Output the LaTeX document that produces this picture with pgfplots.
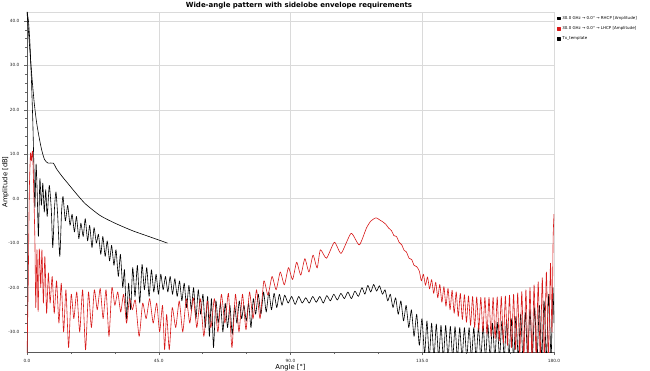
\documentclass[border=0pt]{standalone}
\usepackage{pgfplots}
\pgfplotsset{compat=1.18}
\usepackage{fontspec}
\setmainfont{DejaVu Sans}
\definecolor{lhcp}{RGB}{215,25,25}
\definecolor{gridc}{RGB}{218,218,218}
\begin{document}
\begin{tikzpicture}
\useasboundingbox (0,0) rectangle (650pt,370pt);
\begin{axis}[
  at={(27pt,18pt)}, anchor=south west,
  scale only axis, width=527pt, height=340pt,
  xmin=0, xmax=180, ymin=-34.5, ymax=42,
  xtick={0,45,90,135,180}, ytick={-30,-20,-10,0,10,20,30,40},
  minor x tick num=2, minor y tick num=4,
  tick align=outside,
  major tick length=3pt, minor tick length=2pt,
  tick style={color=black!60, line width=0.4pt},
  axis x line*=bottom, axis y line*=left,
  axis line style={color=black!65, line width=0.5pt, -},
  axis background/.style={draw=gridc},
  grid=major, major grid style={color=gridc, line width=0.5pt},
  /pgf/number format/assume math mode=true,
  /pgf/number format/.cd, fixed, fixed zerofill, precision=1, /pgfplots/.cd,
  ticklabel style={font=\fontsize{4.3}{5}\selectfont, color=black!85},
  xticklabel style={yshift=-0.5pt},
  yticklabel style={xshift=-1pt},
  xlabel={Angle [°]}, ylabel={Amplitude [dB]},
  label style={font=\fontsize{6.8}{8}\selectfont},
  xlabel style={at={(axis description cs:0.5,0)}, anchor=center, yshift=-16pt, inner sep=0pt},
  ylabel style={at={(axis description cs:0,0.5)}, anchor=south, xshift=-0pt, yshift=18pt, inner sep=0pt},
  every axis title shift=0pt,
  title={Wide-angle pattern with sidelobe envelope requirements},
  title style={font=\bfseries\fontsize{7}{8}\selectfont, at={(axis description cs:0.5,1)}, anchor=center, inner sep=0pt, xshift=8.5pt, yshift=6.5pt},
  legend style={at={(1,1)}, anchor=north west, xshift=2pt, yshift=-1pt, draw=none, fill=none,
    font=\fontsize{4}{5}\selectfont, row sep=1.6pt, inner sep=1pt,
    /tikz/every even column/.append style={column sep=1pt}},
  legend cell align=left,
  legend image code/.code={\fill[#1] (0pt,-1.3pt) rectangle (2.6pt,1.3pt);},
  every axis plot/.append style={line width=0.6pt, line join=round},
]
% RHCP (black)
\addplot[black, smooth, tension=0.35] coordinates {
(0,42) (0.5,40) (1,35) (1.5,27) (2,17) (2.4,6) (2.7,-2) (3.1,7.8) (3.5,1) (3.9,-8.5)
(4.4,4.5) (4.9,-1.5) (5.4,3.5) (5.9,-3) (6.4,2) (6.9,-4) (7.6,3) (8.3,-2.5) (8.8,-11) (9.4,-2)
(9.9,1.5) (10.5,-4) (11.2,-13) (11.8,-3) (12.3,0.5) (13.1,-5) (13.9,-1.5) (14.7,-6) (15.4,-3.5) (16.2,-7.5)
(16.9,-4) (17.7,-9) (18.4,-5.5) (19.2,-8.5) (19.9,-4.5) (20.7,-9.5) (21.4,-6) (22.2,-11) (22.9,-6.5) (23.7,-10)
(24.4,-8) (25.2,-12.5) (25.9,-8.5) (26.7,-13) (27.4,-9.5) (28.2,-14) (28.9,-10.5) (29.7,-15) (30.4,-11.5) (31.2,-17.5)
(31.9,-12.5) (32.7,-20) (33.3,-16) (34,-27) (34.7,-19) (35.4,-25) (36.1,-15.5) (36.9,-22) (37.7,-15) (38.5,-23.5)
(39.3,-14.8) (40.1,-20.5) (40.9,-15.5) (41.7,-22) (42.5,-16) (43.3,-21) (44.1,-17) (44.9,-21.5) (45.7,-17) (46.5,-20.5)
(47.3,-17.5) (48.1,-21) (48.9,-17.5) (49.7,-21.5) (50.5,-18) (51.3,-22) (52.1,-18.5) (52.9,-23) (53.7,-19) (54.5,-24.5)
(55.3,-19.5) (56.1,-25) (56.9,-20) (57.7,-27) (58.5,-20.5) (59.3,-26) (60.1,-21.5) (60.9,-29) (61.7,-22) (62.3,-31)
(63,-22.5) (63.7,-33.5) (64.5,-23) (65.3,-28) (66.1,-23.5) (66.9,-30) (67.7,-23.5) (68.5,-29) (69.3,-24) (70.1,-30.5)
(70.9,-24) (71.7,-28) (72.5,-23) (73.3,-27) (74.1,-24) (74.9,-27.5) (75.7,-23.5) (76.5,-29) (77.3,-22.5) (78.1,-26)
(79,-21.5) (79.9,-26) (80.8,-21) (81.7,-25.5) (82.6,-21) (83.5,-25) (84.4,-21.3) (85.3,-24.5) (86.2,-21.5) (87.1,-24)
(88,-21.7) (89.2,-23.5) (90.4,-22) (91.6,-23.8) (92.8,-22) (94,-23.5) (95.2,-22.3) (96.4,-23.5) (97.6,-22) (98.8,-23.3)
(100,-22) (101.2,-23.5) (102.4,-21.8) (103.6,-23) (104.8,-21.5) (106,-22.8) (107.2,-21.3) (108.4,-22.5) (109.6,-21) (110.8,-22.5)
(112,-20.8) (113.2,-22) (114.4,-20) (115.4,-21.5) (116.4,-19.5) (117.4,-21) (118.4,-19.3) (119.4,-20.8) (120.4,-19.6) (121.4,-21.5)
(122.3,-20.5) (123.2,-23) (124.1,-21.5) (125,-24.5) (125.9,-22.3) (126.8,-26) (127.7,-23) (128.6,-27.5) (129.5,-24) (130.4,-29)
(131.3,-25) (132.2,-31) (133.1,-26) (134,-33) (134.9,-27) (135.8,-35) (136.6,-27.5) (137.4,-36) (138.2,-28) (139,-36)
(139.8,-28.2) (140.6,-36) (141.4,-28.5) (142.2,-36) (143,-28.5) (143.8,-36) (144.6,-28.7) (145.4,-36) (146.2,-28.8) (147,-36)
(147.8,-29) (148.6,-36) (149.4,-29) (150.2,-36) (151,-29) (151.8,-36) (152.6,-29) (153.4,-36) (154.2,-28.8) (155,-36)
(155.8,-28.6) (156.6,-36) (157.4,-28.3) (158.2,-36) (159,-28) (159.8,-36) (160.6,-27.8) (161.4,-36) (162.2,-27.5) (163,-36)
(163.8,-27.2) (164.6,-36) (165.4,-27) (166.2,-36) (167,-26.5) (167.8,-36) (168.6,-26) (169.4,-36) (170.2,-25.5) (171,-36)
(171.8,-25) (172.6,-36) (173.4,-24.5) (174.2,-36) (175,-24) (175.8,-36) (176.6,-23) (177.4,-36) (178.2,-21.5) (179,-36)
(179.6,-20) (180,-28)
};
\addlegendentry{30.0 GHz → 0.0° → RHCP [Amplitude]}
% LHCP (red)
\addplot[lhcp, smooth, tension=0.35] coordinates {
(0,-36) (0.4,-20) (0.8,2) (1.2,10.3) (1.5,8.5) (1.9,10.7) (2.3,2) (2.7,-9.5) (3.0,-24.5) (3.4,-11.5)
(3.8,-25.4) (4.2,-11.3) (4.7,-20) (5.1,-11.5) (5.6,-23.5) (6.1,-13) (6.7,-25.8) (7.3,-16.7) (7.9,-23.5) (8.6,-17.5)
(9.3,-25.8) (10.1,-18.5) (10.9,-28) (11.7,-19) (12.5,-30) (13.3,-20.5) (14.2,-33.5) (15.1,-21.5) (16,-27) (17,-21)
(18,-30) (19,-20.5) (20,-34) (21,-21) (22,-29) (23,-20.5) (24,-25) (25,-20.2) (26,-27) (27,-20.5)
(28,-31) (29,-20) (30,-24) (31,-21) (32,-25.5) (33,-21.5) (34,-28) (35,-22.5) (36,-25) (37,-22.8)
(38.3,-31) (39.5,-23.5) (40.7,-27) (41.9,-22.5) (43.1,-28) (44.3,-23.5) (45.3,-30) (46.3,-24) (47,-34) (47.7,-26)
(48.6,-34) (49.6,-24.5) (50.8,-29) (52,-23) (53.2,-30) (54.4,-22.5) (55.6,-28) (56.8,-22.3) (58,-29) (59.2,-22.5)
(60.4,-31) (61.6,-23) (62.8,-29) (64,-22.5) (65.2,-30) (66.4,-21.5) (67.6,-28) (68.8,-21.3) (70,-33.5) (71.2,-21.5)
(72.4,-30) (73.6,-21.5) (74.8,-29.5) (76,-21) (77.2,-27) (78.4,-20.5) (79.6,-27) (80.9,-18.5) (82.3,-21.7) (83.7,-17.5)
(85.1,-20.5) (86.5,-16.5) (87.9,-19.4) (89.3,-15.5) (90.7,-18.2) (92.1,-14.3) (93.5,-17.2) (94.9,-13.5) (96.3,-16.5) (97.7,-12.7)
(99.1,-15.6) (100.2,-11.5) (102.3,-13.4) (105,-9.8) (107.3,-12.3) (110.7,-7.8) (113.5,-10.4) (116,-6.5) (117.5,-5) (119.2,-4.3)
(120.5,-4.8) (121.5,-5.2) (122.6,-5.8) (123.5,-6.6) (124.5,-7.2) (125.3,-8.3) (126.2,-8.5) (127.1,-9.8) (128,-10.4) (128.8,-11.6)
(129.6,-12) (130.5,-13.4) (131.4,-13.7) (132.2,-15) (133.1,-15.3) (134,-16.3) (134.7,-18.5) (135.4,-17) (136.1,-19.5) (136.8,-17.6)
(137.5,-20.3) (138.2,-18.2) (138.9,-21.3) (139.6,-18.8) (140.3,-22.3) (141,-19.3) (141.7,-23.3) (142.4,-19.8) (143.1,-24.2) (143.8,-20.2)
(144.5,-25) (145.2,-20.6) (145.9,-25.8) (146.6,-21) (147.3,-26.5) (148,-21.3) (148.7,-27.2) (149.4,-21.6) (150.1,-27.8) (150.8,-21.9)
(151.5,-28.5) (152.2,-22) (152.9,-29) (153.6,-22.1) (154.3,-29.6) (155,-22.2) (155.7,-30) (156.4,-22.2) (157.1,-30.5) (157.8,-22.2)
(158.5,-31) (159.2,-22.2) (159.9,-31.5) (160.6,-22.1) (161.3,-32) (162,-22) (162.7,-32.5) (163.4,-21.9) (164.1,-33) (164.8,-21.7)
(165.5,-33.5) (166.2,-21.5) (166.9,-34) (167.6,-21.2) (168.3,-35) (169,-20.9) (169.7,-36) (170.4,-20.5) (171.1,-36) (171.8,-20)
(172.5,-36) (173.2,-19.4) (173.9,-36) (174.6,-18.7) (175.3,-36) (176,-17.8) (176.7,-36) (177.4,-16.5) (178.1,-36) (178.8,-14.5)
(179.3,-30) (179.7,-9) (180,-3.5)
};
\addlegendentry{30.0 GHz → 0.0° → LHCP [Amplitude]}
% Template
\addplot[black, smooth, tension=0.4] coordinates {
(0,42) (0.8,35) (1.6,28) (2.4,22) (3.2,17.5) (4,14.3) (5,11) (6,8.8) (7.2,8) (9,8)
(10,6.8) (12,5) (14,3.4) (17,1) (20,-1.2) (25,-3.8) (30,-5.5) (36,-7.2) (42,-8.6) (48,-10)
};
\addlegendentry{Tx\_template}
\end{axis}
\end{tikzpicture}
\end{document}
